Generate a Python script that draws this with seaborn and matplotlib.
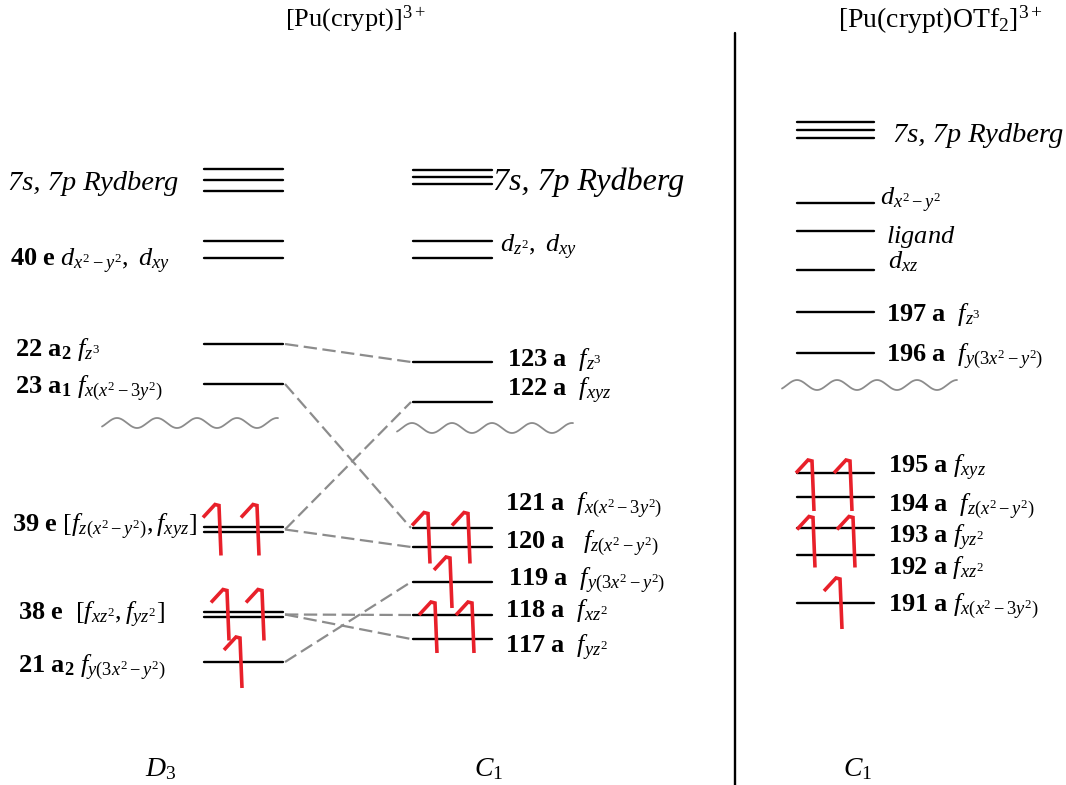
import numpy as np
import pandas as pd
import matplotlib
matplotlib.use("Agg")
import matplotlib.pyplot as plt
import seaborn as sns

# ---------------- data ----------------
title_left = r"[Pu(crypt)]$^{3+}$"
title_right = r"[Pu(crypt)OTf$_2$]$^{3+}$"
symmetry_labels = [r"$\mathit{D_3}$", r"$\mathit{C_1}$", r"$\mathit{C_1}$"]

# schematic orbital energies (screen scale, larger = lower energy)
d3_energy = [169, 180, 191, 241, 258, 344, 384, 527, 532, 612, 617, 662]
d3_orbital = ["ryd", "ryd", "ryd", "40e", "40e", "22a2", "23a1", "39e", "39e", "38e", "38e", "21a2"]
c1_energy = [170, 177, 184, 241, 258, 362, 402, 528, 547, 582, 615, 639]
c1_orbital = ["ryd", "ryd", "ryd", "d", "d", "123a", "122a", "121a", "120a", "119a", "118a", "117a"]
otf_energy = [122, 130, 138, 203, 231, 270, 312, 353, 473, 497, 528, 555, 603]
otf_orbital = ["ryd", "ryd", "ryd", "dx2y2", "ligand", "dxz", "197a", "196a",
               "195a", "194a", "193a", "192a", "191a"]

# D3 -> C1 correlation lines
corr_from = ["22a2", "23a1", "39e", "39e", "38e", "38e", "21a2"]
corr_to = ["123a", "121a", "122a", "120a", "118a", "117a", "119a"]

# electrons: (orbitals spanned, number of electrons)
d3_electrons = [(["39e"], 2), (["38e"], 2), (["21a2"], 1)]
c1_electrons = [(["121a", "120a"], 2), (["119a"], 1), (["118a", "117a"], 2)]
otf_electrons = [(["195a", "194a"], 2), (["193a", "192a"], 2), (["191a"], 1)]

d3_label_text = [
    "7s, 7p Rydberg",
    r"$\mathbf{40\ e}\ d_{x^2-y^2},\ d_{xy}$",
    r"$\mathbf{22\ a_2}\ f_{z^3}$",
    r"$\mathbf{23\ a_1}\ f_{x(x^2-3y^2)}$",
    r"$\mathbf{39\ e}\ [f_{z(x^2-y^2)},f_{xyz}]$",
    r"$\mathbf{38\ e}\ \ [f_{xz^2},f_{yz^2}]$",
    r"$\mathbf{21\ a_2}\ f_{y(3x^2-y^2)}$",
]
c1_label_text = [
    "7s, 7p Rydberg",
    r"$d_{z^2},\ d_{xy}$",
    r"$\mathbf{123\ a}\ \ f_{z^3}$",
    r"$\mathbf{122\ a}\ \ f_{xyz}$",
    r"$\mathbf{121\ a}\ \ f_{x(x^2-3y^2)}$",
    r"$\mathbf{120\ a}\ \ \ f_{z(x^2-y^2)}$",
    r"$\mathbf{119\ a}\ \ f_{y(3x^2-y^2)}$",
    r"$\mathbf{118\ a}\ \ f_{xz^2}$",
    r"$\mathbf{117\ a}\ \ f_{yz^2}$",
]
otf_label_text = [
    "7s, 7p Rydberg",
    r"$d_{x^2-y^2}$",
    r"$ligand$",
    r"$d_{xz}$",
    r"$\mathbf{197\ a}\ \ f_{z^3}$",
    r"$\mathbf{196\ a}\ \ f_{y(3x^2-y^2)}$",
    r"$\mathbf{195\ a}\ f_{xyz}$",
    r"$\mathbf{194\ a}\ \ f_{z(x^2-y^2)}$",
    r"$\mathbf{193\ a}\ f_{yz^2}$",
    r"$\mathbf{192\ a}\ f_{xz^2}$",
    r"$\mathbf{191\ a}\ f_{x(x^2-3y^2)}$",
]

# ---------------- layout ----------------
W, H = 1066, 785
col_span = {"d3": (204, 283), "c1": (413, 492), "otf": (797, 874)}
d3_label_pos = [(8, 190), (10, 266), (15, 356), (15, 393), (12, 531), (18, 620), (18, 672)]
c1_label_pos = [(493, 190), (500, 252), (507, 366), (507, 396), (505, 510), (505, 548),
                (508, 585), (505, 617), (505, 653)]
otf_label_pos = [(893, 142), (880, 205), (886, 243), (888, 268), (886, 321), (886, 361),
                 (888, 473), (888, 511), (888, 543), (888, 574), (888, 611)]
ryd_size = {"d3": 20.5, "c1": 23, "otf": 20.5}
# arrow x-offsets within a level (px from left end)
d3_arrow_dx = [(12, 50), (20, 55), (33,)]
c1_arrow_dx = [(12, 52), (34,), (19, 56)]
otf_arrow_dx = [(12, 50), (13, 53), (40,)]
waves = [(102, 278, 423), (397, 573, 428), (782, 957, 385)]

sns.set_theme(style="white")
plt.rcParams["font.family"] = ["Liberation Serif", "DejaVu Serif"]
plt.rcParams["text.color"] = "black"
plt.rcParams["mathtext.fontset"] = "custom"
plt.rcParams["mathtext.rm"] = "Liberation Serif"
plt.rcParams["mathtext.it"] = "Liberation Serif:italic"
plt.rcParams["mathtext.bf"] = "Liberation Serif:bold"
plt.rcParams["mathtext.bfit"] = "Liberation Serif:bold:italic"

fig = plt.figure(figsize=(W / 100, H / 100), dpi=100)
ax = fig.add_axes([0, 0, 1, 1])

# level lines
rows = []
cols = {"d3": (d3_energy, d3_orbital), "c1": (c1_energy, c1_orbital), "otf": (otf_energy, otf_orbital)}
uid = 0
for key, (energies, names) in cols.items():
    x0, x1 = col_span[key]
    for e in energies:
        rows.append({"x": x0, "E": e, "unit": uid})
        rows.append({"x": x1, "E": e, "unit": uid})
        uid += 1
levels = pd.DataFrame(rows)
sns.lineplot(data=levels, x="x", y="E", units="unit", estimator=None, sort=False,
             color="black", lw=1.7, ax=ax, legend=False)


def group_energy(energies, names, g):
    return float(np.mean([e for e, n in zip(energies, names) if n == g]))


# correlation lines
crow = []
for i, (a, b) in enumerate(zip(corr_from, corr_to)):
    ea = group_energy(d3_energy, d3_orbital, a)
    eb = group_energy(c1_energy, c1_orbital, b)
    crow.append({"x": col_span["d3"][1] + 2, "E": ea, "unit": i})
    crow.append({"x": col_span["c1"][0] - 2, "E": eb, "unit": i})
corr = pd.DataFrame(crow)
sns.lineplot(data=corr, x="x", y="E", units="unit", estimator=None, sort=False,
             color="#8c8c8c", lw=1.6, dashes=False, linestyle=(0, (6, 2.5)), ax=ax, legend=False)

# wavy breaks
for xa, xb, yc in waves:
    xs = np.linspace(xa, xb, 300)
    ax.plot(xs, yc - 5 * np.cos(2 * np.pi * (xs - xa - 15) / 40), color="#8c8c8c", lw=1.3)


# electrons (half-arrows)
def draw_electrons(elist, energies, names, x0, dxs):
    for (orbs, n), dx in zip(elist, dxs):
        ec = np.mean([group_energy(energies, names, o) for o in orbs])
        top = ec - 25
        for d in dx[:n]:
            px = x0 + d
            ax.plot([px - 13, px - 1, px + 3, px + 5], [top + 13, top, top + 1, top + 51],
                    color="#e8202a", lw=2.6, solid_capstyle="butt", solid_joinstyle="miter")


draw_electrons(d3_electrons, d3_energy, d3_orbital, col_span["d3"][0], d3_arrow_dx)
draw_electrons(c1_electrons, c1_energy, c1_orbital, col_span["c1"][0], c1_arrow_dx)
draw_electrons(otf_electrons, otf_energy, otf_orbital, col_span["otf"][0], otf_arrow_dx)

# labels
for key, texts, poss in [("d3", d3_label_text, d3_label_pos), ("c1", c1_label_text, c1_label_pos),
                         ("otf", otf_label_text, otf_label_pos)]:
    for t, (x, y) in zip(texts, poss):
        if t.startswith("7s"):
            ax.text(x, y, t, fontsize=ryd_size[key], fontstyle="italic", ha="left", va="baseline")
        else:
            ax.text(x, y, t, fontsize=19, ha="left", va="baseline")

# titles and point groups
ax.text(355, 26, title_left, fontsize=19, ha="center", va="baseline")
ax.text(940, 28, title_right, fontsize=20, ha="center", va="baseline")
for t, x in zip(symmetry_labels, [145, 474, 843]):
    ax.text(x, 776, t, fontsize=20, ha="left", va="baseline")

# divider
ax.plot([735, 735], [33, 785], color="black", lw=1.7)

ax.set_xlim(0, W)
ax.set_ylim(H, 0)
ax.axis("off")
fig.savefig("out.png", dpi=100, facecolor="white")
